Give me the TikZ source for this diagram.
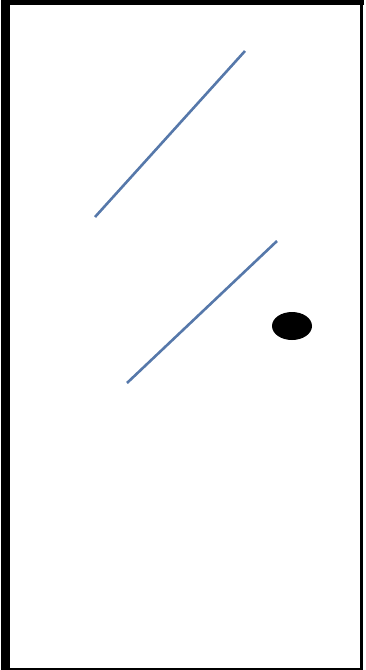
\documentclass[tikz,border=0pt]{standalone}
\definecolor{panelblue}{RGB}{86,120,170}
\tikzset{
  frameline/.style={draw=black, line cap=rect},
  panel/.style={draw=panelblue, line width=2.6pt},
  knob/.style={ellipse, fill=black, minimum width=40pt, minimum height=28pt, inner sep=0pt}
}
\usetikzlibrary{shapes.geometric}
\begin{document}
\begin{tikzpicture}[x=1pt,y=-1pt]
\useasboundingbox (0,0) rectangle (366,670);
% door frame
\draw[frameline, line width=9pt] (5.5,2.5) -- (5.5,668);
\draw[frameline, line width=5pt] (5.5,2.5) -- (361.5,2.5);
\draw[frameline, line width=3pt] (361.5,2.5) -- (361.5,668.5);
\draw[frameline, line width=2pt] (5.5,669) -- (361.5,669);
% glass panes
\coordinate (a1) at (95,217);
\coordinate (a2) at (245,51);
\coordinate (b1) at (127,383);
\coordinate (b2) at (277,241);
\draw[panel] (a1) -- (a2);
\draw[panel] (b1) -- (b2);
% handle
\node[knob] (handle) at (292,326) {};
\end{tikzpicture}
\end{document}
